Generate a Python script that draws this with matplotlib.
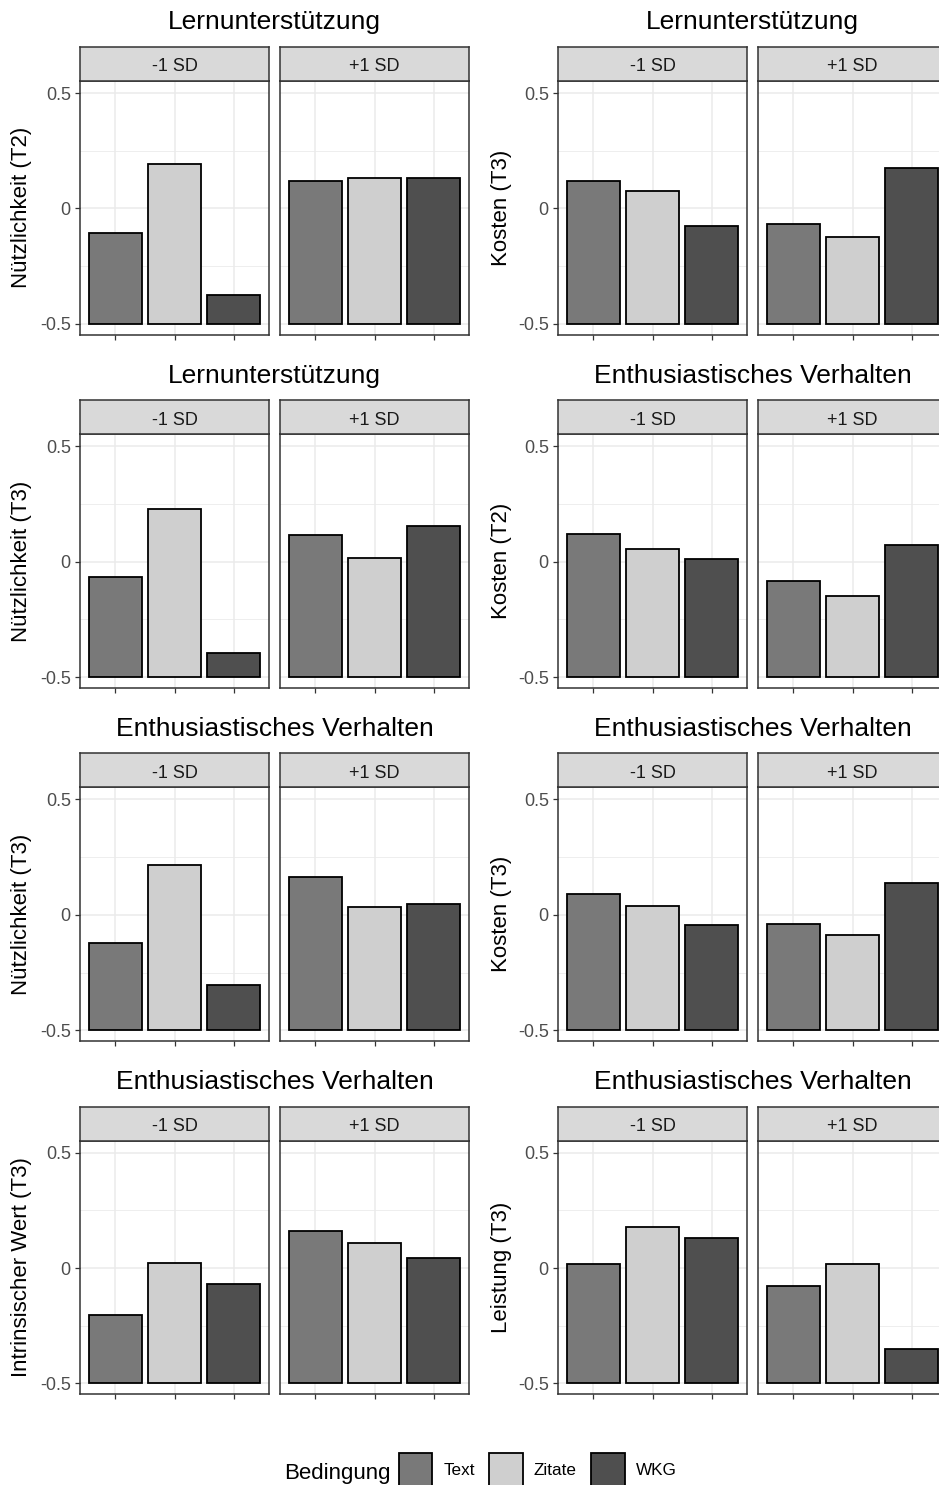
import numpy as np
import matplotlib
matplotlib.use('Agg')
import matplotlib.pyplot as plt
from matplotlib.patches import Patch

plt.rcParams['font.family'] = ['Liberation Sans', 'DejaVu Sans']

# Bedingungen und Moderatorstufen
bedingungen = ['Text', 'Zitate', 'WKG']
stufen = ['-1 SD', '+1 SD']
farben = ['#797979', '#cfcfcf', '#4f4f4f']

# Panels zeilenweise (links, rechts)
titel = ['Lernunterstützung', 'Lernunterstützung',
         'Lernunterstützung', 'Enthusiastisches Verhalten',
         'Enthusiastisches Verhalten', 'Enthusiastisches Verhalten',
         'Enthusiastisches Verhalten', 'Enthusiastisches Verhalten']
ylabels = ['Nützlichkeit (T2)', 'Kosten (T3)',
           'Nützlichkeit (T3)', 'Kosten (T2)',
           'Nützlichkeit (T3)', 'Kosten (T3)',
           'Intrinsischer Wert (T3)', 'Leistung (T3)']

# Werte (Text, Zitate, WKG) je Panel
minus_sd = [
    [-0.108, 0.192, -0.374],
    [0.121, 0.075, -0.074],
    [-0.066, 0.229, -0.394],
    [0.120, 0.056, 0.012],
    [-0.120, 0.216, -0.306],
    [0.092, 0.040, -0.042],
    [-0.205, 0.023, -0.071],
    [0.019, 0.179, 0.130],
]
plus_sd = [
    [0.121, 0.132, 0.132],
    [-0.069, -0.124, 0.176],
    [0.115, 0.016, 0.153],
    [-0.085, -0.149, 0.071],
    [0.166, 0.033, 0.049],
    [-0.039, -0.088, 0.136],
    [0.160, 0.110, 0.042],
    [-0.078, 0.016, -0.351],
]

W, H = 939, 1485
fig = plt.figure(figsize=(W / 100, H / 100), dpi=100)


def px(x0, y0, w, h):
    # Pixelbox (y von oben) -> Figure-Koordinaten
    return [x0 / W, 1 - (y0 + h) / H, w / W, h / H]


col_x = [80, 558]
facet_w = 189
facet_gap = 11
row_step = 353.2
panel_top = 81
panel_h = 253.5
strip_h = 34
grau20 = '#333333'

for i in range(8):
    r, c = i // 2, i % 2
    top = panel_top + r * row_step
    for j, werte in enumerate([minus_sd[i], plus_sd[i]]):
        x0 = col_x[c] + j * (facet_w + facet_gap)
        ax = fig.add_axes(px(x0, top, facet_w, panel_h))
        x = np.arange(1, 4)
        ax.bar(x, np.array(werte) + 0.5, bottom=-0.5, width=0.9,
               color=farben, edgecolor='black', linewidth=1.3, zorder=3)
        ax.set_xlim(0.4, 3.6)
        ax.set_ylim(-0.546, 0.552)
        ax.set_xticks(x, ['', '', ''])
        ax.set_yticks([-0.5, 0, 0.5], ['-0.5', '0', '0.5'])
        ax.set_yticks([-0.25, 0.25], minor=True)
        ax.set_axisbelow(True)
        ax.grid(which='major', color='#ebebeb', linewidth=1.1)
        ax.grid(which='minor', axis='y', color='#ebebeb', linewidth=0.6)
        ax.tick_params(which='minor', length=0)
        ax.tick_params(which='major', length=3.6, width=0.9, color=grau20,
                       labelsize=13, labelcolor='#4d4d4d', pad=3.0)
        for s in ax.spines.values():
            s.set_color(grau20)
            s.set_linewidth(1.1)
        if j == 0:
            ax.set_ylabel(ylabels[i], fontsize=16, va='center')
            ax.yaxis.set_label_coords((22 + c * 480 - x0) / facet_w, 0.5)
        else:
            ax.tick_params(axis='y', length=0, labelleft=False)

        # Facettenstreifen
        sax = fig.add_axes(px(x0, top - strip_h, facet_w, strip_h))
        sax.set_facecolor('#d9d9d9')
        sax.set_xticks([])
        sax.set_yticks([])
        for s in sax.spines.values():
            s.set_color(grau20)
            s.set_linewidth(1.1)
        sax.text(0.5, 0.28, stufen[j], ha='center', va='baseline',
                 fontsize=13, color='#1a1a1a', transform=sax.transAxes)

    mitte = col_x[c] + (2 * facet_w + facet_gap) / 2
    fig.text(mitte / W, 1 - (29.5 + r * row_step) / H, titel[i],
             ha='center', va='baseline', fontsize=19)

# Legende
handles = [Patch(facecolor=f, edgecolor='black', linewidth=1.3) for f in farben]
fig.text(391 / W, 1 - 1479 / H, 'Bedingung', ha='right', va='baseline',
         fontsize=16)
fig.legend(handles, bedingungen, loc='center left',
           bbox_to_anchor=(399 / W, 1 - 1470 / H), ncol=3, frameon=False,
           fontsize=12.3, handlelength=1.95, handleheight=2.6,
           handletextpad=0.65, columnspacing=0.85, borderpad=0,
           borderaxespad=0)

fig.savefig('out.png', dpi=100)
